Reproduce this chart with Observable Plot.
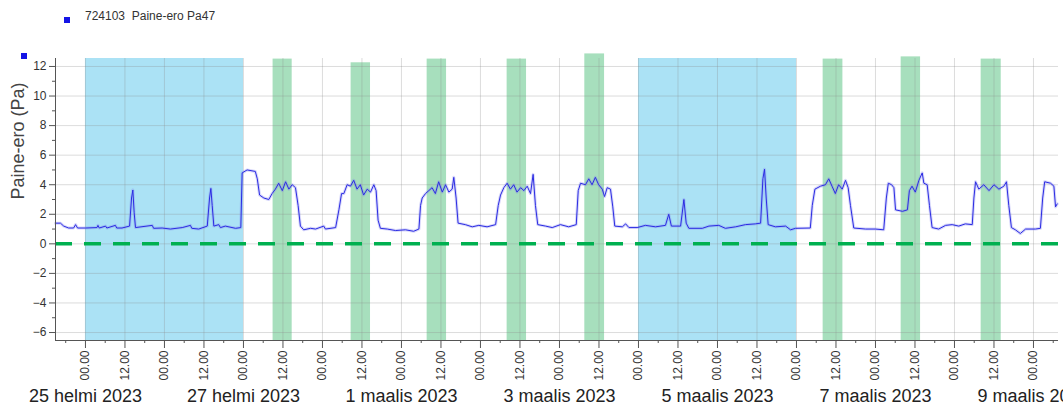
<!DOCTYPE html>
<html><head><meta charset="utf-8">
<script src="https://cdn.jsdelivr.net/npm/d3@7"></script>
<script src="https://cdn.jsdelivr.net/npm/@observablehq/plot@0.6"></script>
<style>
body{margin:0;background:#fff;font-family:"Liberation Sans",Arial,sans-serif;}
#wrap{position:relative;width:1063px;height:407px;overflow:hidden;background:#fff}
#legend{height:40px;position:relative}
.sw{position:absolute;width:6px;height:6px;background:#1414e6}
#legtext{position:absolute;left:85px;top:9px;font-size:12px;color:#333;white-space:pre}
#chart svg{display:block}
</style></head><body>
<div id="wrap">
<div id="legend"><div class="sw" style="left:64px;top:17px"></div><div id="legtext"></div></div>
<div class="sw" style="left:21px;top:53px"></div>
<div id="chart"></div>
</div>
<script>
const seriesName = "724103  Paine-ero Pa47";
const yLabel = "Paine-ero (Pa)";
const baseDate = "2023-02-25T00:00Z";
// hours since 25 Feb 2023 00:00 and pressure difference (Pa)
const hours = [-9.1,-7.6,-6.6,-5.1,-3.6,-3.0,-2.4,0,3.5,3.8,4.2,6.1,6.5,9.1,9.5,11.1,13.4,14.0,14.4,14.8,15.2,20.3,20.7,23.3,25.8,29.4,31.9,32.3,34.4,37.0,37.7,38.1,38.5,39.0,40.5,41,42.5,45.6,47.2,47.6,49.1,51.6,52.2,52.9,54.2,55.7,56.7,57.7,58.7,59.8,60.8,61.8,62.8,63.8,64.6,65.3,66.3,68.4,
69.9,72.4,72.9,76.0,77.0,77.8,78.5,79.5,80.5,81.5,82.5,83.5,84.5,85.6,86.6,87.6,88.3,88.9,89.6,91.7,94.2,97.2,99.7,101.3,101.8,102.3,103.3,104.3,105.3,106.3,107.3,108.4,109.4,110.4,111.4,111.9,112.6,113.2,115.4,117.5,119.5,122.0,124.6,125.4,126.1,127.1,128.1,129.1,130.1,131.1,132.2,133.2,134.2,135.2,136.0,136.7,137.4,139.8,141.8,144.3,
146.8,149.1,149.7,150.4,151.9,152.9,153.9,154.9,155.9,157.0,157.7,158.5,159.5,160.2,160.8,163.1,164.1,165.1,167.6,170.1,173.2,176.2,177.2,178.0,180.8,181.8,182.5,183.3,187.4,189.4,192.4,194.4,197.5,200.5,203.5,205.1,205.8,206.3,206.8,207.4,209.6,212.7,214.2,215.7,
220.2,220.8,221.6,223.3,224.8,225.8,226.8,227.8,228.8,229.9,230.9,231.7,232.4,233.4,237.0,240.0,242.5,243.3,243.9,244.9,245.6,246.1,248.2,249.7,250.3,251.1,252.1,253.2,254.2,254.7,255.7,256.4,257.2,259.2,261.3,263.3,265.3,267.3,269.4,269.9,270.4,271.4,272.9,274.5,276.0,277.5,279.0,279.8,280.5,281.3,282.5,284.0,285.6,288.6,290.1,290.8,291.4,293.2,294.2,294.7,295.2];
const values = [1.4,1.4,1.2,1.07,1.07,1.3,1.07,1.07,1.1,1.25,1.07,1.2,1.07,1.25,1.07,1.07,1.2,3.1,3.64,2.1,1.1,1.25,1.05,1.07,1.0,1.1,1.25,1.05,1.0,1.2,3.1,3.75,2.6,1.2,1.3,1.1,1.2,1.05,1.1,4.8,5.0,4.9,4.4,3.3,3.1,3.0,3.4,3.7,4.1,3.6,4.2,3.7,4.0,3.8,2.6,1.2,0.95,1.05,
1.0,1.2,1.0,1.1,2.3,3.4,3.4,4.0,3.9,4.3,3.7,4.0,3.3,3.7,3.5,4.0,3.6,1.6,1.05,1.0,0.9,0.95,0.85,1.0,2.6,3.1,3.4,3.6,3.8,3.4,4.2,3.5,4.0,3.5,3.7,4.5,3.1,1.4,1.3,1.15,1.25,1.15,1.3,2.6,3.3,3.8,4.1,3.7,4.0,3.5,3.8,3.6,3.9,3.4,4.7,2.6,1.3,1.2,1.1,1.3,
1.15,1.3,3.6,4.1,4.0,4.4,4.0,4.5,4.0,3.7,3.2,3.8,3.7,2.5,1.2,1.15,1.35,1.1,1.1,1.25,1.15,1.25,2.0,1.2,1.2,3.0,1.4,1.05,1.05,1.2,1.25,1.05,1.15,1.3,1.35,1.4,4.4,5.05,3.1,1.3,1.15,1.2,0.95,1.05,
1.07,2.6,3.7,3.9,4.0,4.4,3.9,3.4,4.0,3.7,4.3,3.8,2.6,1.07,1.0,1.0,0.95,3.1,4.1,4.0,3.8,2.3,2.2,2.3,3.6,3.9,3.5,4.3,4.8,4.1,4.0,2.6,1.1,1.0,1.25,1.3,1.2,1.35,1.3,3.1,4.2,3.7,4.0,3.6,4.0,3.7,3.9,4.2,2.6,1.1,0.95,0.7,1.0,1.0,1.05,3.1,4.2,4.1,3.9,2.5,2.7];
// weekend bands (hours) and working-hours bands (hours, top value)
const weekendStart = [0, 168];
const weekendEnd = [48, 216];
const workStart = [57.0, 80.7, 103.8, 128.1, 151.7, 224.1, 247.8, 272.1];
const workEnd = [62.8, 86.6, 109.7, 134.0, 157.7, 230.1, 253.7, 278.2];
const workTop = [12.5, 12.25, 12.5, 12.5, 12.85, 12.5, 12.65, 12.5];
const dateLabels = ["25 helmi 2023","27 helmi 2023","1 maalis 2023","3 maalis 2023","5 maalis 2023","7 maalis 2023","9 maalis 2023"];
const hourLabels = ["00.00","12.00"];
const yTicks = [-6,-4,-2,0,2,4,6,8,10,12];
const yMinor = [-5,-3,-1,1,3,5,7,9,11];
const xDomainH = [-9.1, 295.6];
const yDomain = [-6.54, 12.54];
const refLevel = 0;

document.getElementById("legtext").textContent = seriesName;

const base = new Date(baseDate).getTime();
const toDate = h => new Date(base + h * 3600e3);
const series = hours.map((h, i) => ({t: toDate(h), v: values[i]}));
const weekends = weekendStart.map((s, i) => ({x1: toDate(s), x2: toDate(weekendEnd[i])}));
const work = workStart.map((s, i) => ({x1: toDate(s), x2: toDate(workEnd[i]), top: workTop[i]}));
const xDomain = xDomainH.map(toDate);
const majorX = d3.utcHour.every(12).range(xDomain[0], xDomain[1]);
const minorX = d3.utcHour.every(6).range(xDomain[0], xDomain[1]).filter(d => d.getUTCHours() % 12 !== 0);
const dateTicks = dateLabels.map((_, i) => d3.utcDay.offset(new Date(base), 2 * i));

const chart = Plot.plot({
  width: 1063, height: 367,
  marginLeft: 55, marginRight: 5, marginTop: 18, marginBottom: 67,
  style: {fontFamily: "Liberation Sans, Arial, sans-serif", fontSize: "12px", color: "#333", background: "#fff"},
  x: {type: "utc", domain: xDomain},
  y: {domain: yDomain},
  marks: [
    Plot.rectY(weekends, {x1: "x1", x2: "x2", y1: yDomain[0], y2: yDomain[1], fill: "#abe2f5"}),
    Plot.rectY(work, {x1: "x1", x2: "x2", y1: yDomain[0], y2: "top", fill: "#a7dfbd", clip: false}),
    Plot.ruleY(yTicks, {stroke: "#8a8a8a", strokeOpacity: 0.3}),
    Plot.ruleX(majorX, {stroke: "#8a8a8a", strokeOpacity: 0.3}),
    Plot.ruleY([refLevel], {stroke: "#00b050", strokeWidth: 3.5, strokeDasharray: "17,12"}),
    Plot.line(series, {x: "t", y: "v", stroke: "#7b7bf0", strokeWidth: 3, strokeOpacity: 0.3}),
    Plot.line(series, {x: "t", y: "v", stroke: "#2b2be3", strokeWidth: 1}),
    Plot.ruleX([xDomain[0]], {stroke: "#555"}),
    Plot.ruleY([yDomain[0]], {stroke: "#555"}),
    Plot.axisY({ticks: yTicks, tickSize: 6, tickPadding: 3, fontSize: 12, label: null, stroke: "#555"}),
    Plot.axisY({ticks: yMinor, tickSize: 3, tickFormat: () => "", label: null, stroke: "#555"}),
    Plot.axisX({ticks: majorX, tickSize: 8, tickPadding: 2, tickRotate: -90, fontSize: 12, label: null, stroke: "#555",
      tickFormat: d => hourLabels[d.getUTCHours() === 0 ? 0 : 1]}),
    Plot.axisX({ticks: minorX, tickSize: 3, tickFormat: () => "", label: null, stroke: "#555"}),
    Plot.axisX({ticks: dateTicks, tickSize: 0, tickPadding: 49, fontSize: 18, label: null, fill: "#222",
      tickFormat: d => dateLabels[Math.round((d - base) / 864e5 / 2)]}),
    Plot.text([yLabel], {frameAnchor: "left", dx: -37, rotate: -90, fontSize: 18, fill: "#444"})
  ]
});
document.getElementById("chart").appendChild(chart);
</script>
</body></html>
